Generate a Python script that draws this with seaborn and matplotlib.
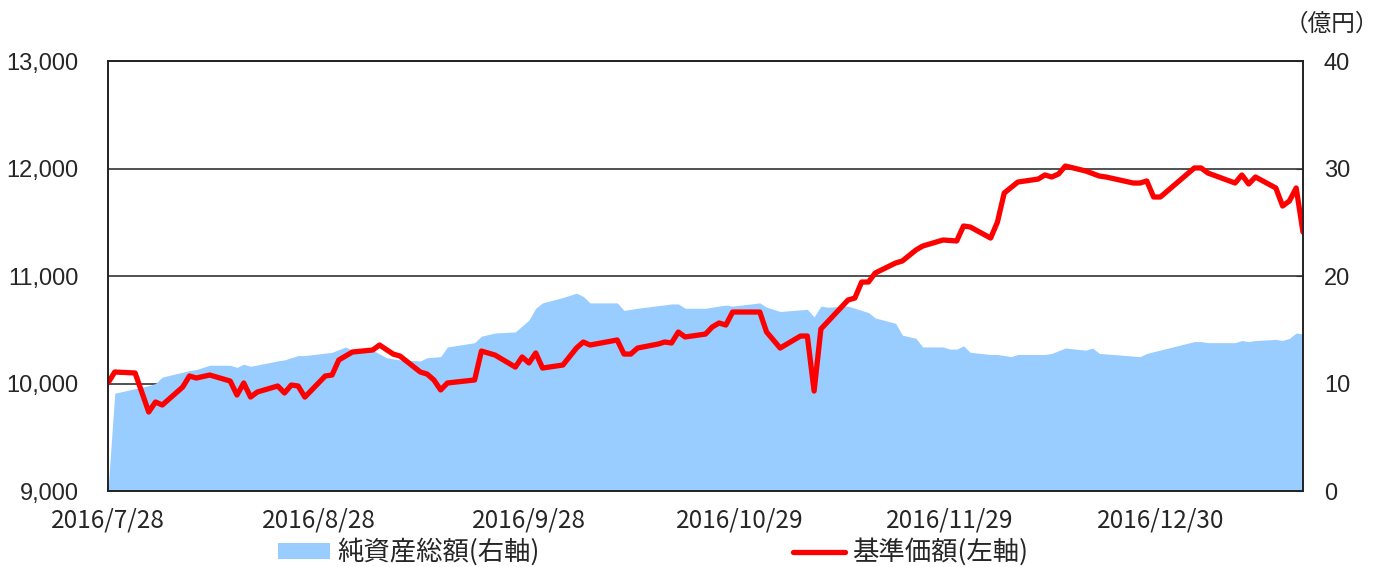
import pandas as pd
import numpy as np

import matplotlib.pyplot as plt
import matplotlib.dates as mdates
from matplotlib.patches import Patch
from matplotlib.lines import Line2D
import seaborn as sns


# 基準価額 (left axis, yen)
nav_dates = [
    "2016-07-28", "2016-07-29", "2016-08-01", "2016-08-03", "2016-08-04", "2016-08-05",
    "2016-08-08", "2016-08-09", "2016-08-10", "2016-08-12", "2016-08-15", "2016-08-16",
    "2016-08-17", "2016-08-18", "2016-08-19", "2016-08-22", "2016-08-23", "2016-08-24",
    "2016-08-25", "2016-08-26", "2016-08-29", "2016-08-30", "2016-08-31", "2016-09-02",
    "2016-09-05", "2016-09-06", "2016-09-08", "2016-09-09", "2016-09-12", "2016-09-13",
    "2016-09-14", "2016-09-15", "2016-09-16", "2016-09-20", "2016-09-21", "2016-09-23",
    "2016-09-26", "2016-09-27", "2016-09-28", "2016-09-29", "2016-09-30", "2016-10-03",
    "2016-10-05", "2016-10-06", "2016-10-07", "2016-10-11", "2016-10-12", "2016-10-13",
    "2016-10-14", "2016-10-17", "2016-10-18", "2016-10-19", "2016-10-20", "2016-10-21",
    "2016-10-24", "2016-10-25", "2016-10-26", "2016-10-27", "2016-10-28", "2016-11-01",
    "2016-11-02", "2016-11-04", "2016-11-07", "2016-11-08", "2016-11-09", "2016-11-10",
    "2016-11-14", "2016-11-15", "2016-11-16", "2016-11-17", "2016-11-18", "2016-11-21",
    "2016-11-22", "2016-11-24", "2016-11-25", "2016-11-28", "2016-11-30", "2016-12-01",
    "2016-12-02", "2016-12-05", "2016-12-06", "2016-12-07", "2016-12-09", "2016-12-12",
    "2016-12-13", "2016-12-14", "2016-12-15", "2016-12-16", "2016-12-19", "2016-12-21",
    "2016-12-22", "2016-12-26", "2016-12-27", "2016-12-28", "2016-12-29", "2016-12-30",
    "2017-01-04", "2017-01-05", "2017-01-06", "2017-01-10", "2017-01-11", "2017-01-12",
    "2017-01-13", "2017-01-16", "2017-01-17", "2017-01-18", "2017-01-19", "2017-01-20",
]
nav_values = [
    10005, 10107, 10098, 9735, 9828, 9800,
    9967, 10070, 10051, 10079, 10023, 9893,
    10005, 9874, 9921, 9977, 9912, 9986,
    9977, 9874, 10070, 10079, 10219, 10293,
    10312, 10358, 10274, 10256, 10107, 10088,
    10033, 9940, 10005, 10033, 10302, 10265,
    10153, 10247, 10191, 10284, 10144, 10172,
    10330, 10386, 10358, 10405, 10274, 10274,
    10330, 10367, 10386, 10377, 10479, 10433,
    10460, 10526, 10563, 10544, 10665, 10665,
    10479, 10330, 10442, 10442, 9930, 10507,
    10777, 10795, 10944, 10944, 11028, 11121,
    11140, 11242, 11279, 11335, 11326, 11465,
    11456, 11353, 11502, 11772, 11874, 11902,
    11940, 11921, 11949, 12023, 11977, 11930,
    11921, 11865, 11865, 11884, 11735, 11735,
    12005, 12005, 11958, 11865, 11940, 11856,
    11921, 11819, 11651, 11698, 11819, 11409,
]

# 純資産総額 (right axis, 億円)
aum_dates = [
    "2016-07-28", "2016-07-29", "2016-08-03", "2016-08-04", "2016-08-05", "2016-08-09",
    "2016-08-10", "2016-08-12", "2016-08-15", "2016-08-16", "2016-08-17", "2016-08-18",
    "2016-08-22", "2016-08-23", "2016-08-25", "2016-08-26", "2016-08-30", "2016-09-01",
    "2016-09-02", "2016-09-05", "2016-09-07", "2016-09-09", "2016-09-12", "2016-09-13",
    "2016-09-15", "2016-09-16", "2016-09-20", "2016-09-21", "2016-09-23", "2016-09-26",
    "2016-09-28", "2016-09-29", "2016-09-30", "2016-10-03", "2016-10-05", "2016-10-06",
    "2016-10-07", "2016-10-11", "2016-10-12", "2016-10-14", "2016-10-19", "2016-10-20",
    "2016-10-21", "2016-10-24", "2016-10-27", "2016-10-28", "2016-11-01", "2016-11-02",
    "2016-11-04", "2016-11-08", "2016-11-09", "2016-11-10", "2016-11-11", "2016-11-14",
    "2016-11-17", "2016-11-18", "2016-11-21", "2016-11-22", "2016-11-24", "2016-11-25",
    "2016-11-28", "2016-11-29", "2016-11-30", "2016-12-01", "2016-12-02", "2016-12-05",
    "2016-12-06", "2016-12-08", "2016-12-09", "2016-12-13", "2016-12-14", "2016-12-16",
    "2016-12-19", "2016-12-20", "2016-12-21", "2016-12-27", "2016-12-28", "2017-01-04",
    "2017-01-05", "2017-01-06", "2017-01-10", "2017-01-11", "2017-01-12", "2017-01-13",
    "2017-01-16", "2017-01-17", "2017-01-18", "2017-01-19", "2017-01-20",
]
aum_values = [
    0.0, 9.1, 9.8, 10.0, 10.6, 11.2,
    11.3, 11.7, 11.7, 11.5, 11.8, 11.6,
    12.1, 12.2, 12.6, 12.6, 12.9, 13.4,
    13.1, 13.1, 12.4, 12.2, 12.1, 12.4,
    12.5, 13.4, 13.8, 14.4, 14.7, 14.8,
    15.9, 17.0, 17.5, 18.0, 18.4, 18.1,
    17.5, 17.5, 16.8, 17.0, 17.4, 17.4,
    17.0, 17.0, 17.3, 17.2, 17.5, 17.1,
    16.7, 16.9, 16.2, 17.2, 17.1, 17.2,
    16.6, 16.1, 15.6, 14.5, 14.2, 13.4,
    13.4, 13.2, 13.2, 13.5, 12.9, 12.7,
    12.7, 12.5, 12.7, 12.7, 12.8, 13.3,
    13.1, 13.3, 12.8, 12.5, 12.8, 13.9,
    13.9, 13.8, 13.8, 14.0, 13.9, 14.0,
    14.1, 14.0, 14.2, 14.7, 14.6,
]

tick_dates = ["2016-07-28", "2016-08-28", "2016-09-28", "2016-10-29", "2016-11-29", "2016-12-30"]
tick_labels = ["2016/7/28", "2016/8/28", "2016/9/28", "2016/10/29", "2016/11/29", "2016/12/30"]
left_ticks = [9000, 10000, 11000, 12000, 13000]
right_ticks = [0, 10, 20, 30, 40]


def main():
    sns.set_style('white')
    plt.rcParams['font.family'] = ['Noto Sans CJK JP', 'DejaVu Sans']

    nav = pd.DataFrame({'date': pd.to_datetime(nav_dates), 'nav': nav_values})
    aum = pd.DataFrame({'date': pd.to_datetime(aum_dates), 'aum': aum_values})

    fig = plt.figure(figsize=(13.86, 5.67), dpi=100)
    ax = fig.add_axes([0.0779, 0.134, 0.8622, 0.7584])
    ax2 = ax.twinx()

    # area on the right axis, grid behind it
    ax2.fill_between(aum['date'], aum['aum'], 0, color='#99ccff', linewidth=0, zorder=2)
    ax2.set_ylim(0, 40)
    ax2.set_yticks(right_ticks)
    ax2.set_yticklabels([str(t) for t in right_ticks], family='Liberation Sans', fontsize=17)
    ax2.grid(axis='y', color='#333333', linewidth=1.2, zorder=0)
    ax2.set_axisbelow(True)
    ax2.tick_params(axis='y', direction='in', length=5, pad=15, color='#333333')

    # line on the left axis, drawn on top
    ax.set_zorder(ax2.get_zorder() + 1)
    ax.patch.set_visible(False)
    sns.lineplot(data=nav, x='date', y='nav', ax=ax, color='#ff0000', linewidth=3.8)
    ax.set_ylim(9000, 13000)
    ax.set_yticks(left_ticks)
    ax.set_yticklabels([f"{t:,}" for t in left_ticks], family='Liberation Sans', fontsize=17)
    ax.grid(False)
    ax.set_xlim(nav['date'].iloc[0], nav['date'].iloc[-1])
    ax.set_xticks(pd.to_datetime(tick_dates))
    ax.set_xticklabels(tick_labels, fontsize=17.5)
    ax.tick_params(axis='x', direction='in', length=5, pad=12, color='#333333')
    ax.tick_params(axis='y', length=0, pad=21)
    ax.set_xlabel('')
    ax.set_ylabel('')
    ax2.set_ylabel('')

    for a in (ax, ax2):
        for s in a.spines.values():
            s.set_color('#222222')
            s.set_linewidth(1.2)

    fig.text(0.995, 0.958, '（億円）', ha='right', va='center', fontsize=17)

    handles = [
        Patch(facecolor='#99ccff', edgecolor='none'),
        Line2D([], [], color='#ff0000', linewidth=3.8),
    ]
    fig.legend(handles, ['純資産総額(右軸)', '基準価額(左軸)'], loc='center',
               bbox_to_anchor=(0.471, 0.026), ncol=2, frameon=False, fontsize=19,
               handlelength=2.0, handleheight=0.55, handletextpad=0.25, columnspacing=9.6,
               borderpad=0)

    fig.savefig('out.png', dpi=100, facecolor='white')
    plt.close(fig)


if __name__ == "__main__":
    main()
